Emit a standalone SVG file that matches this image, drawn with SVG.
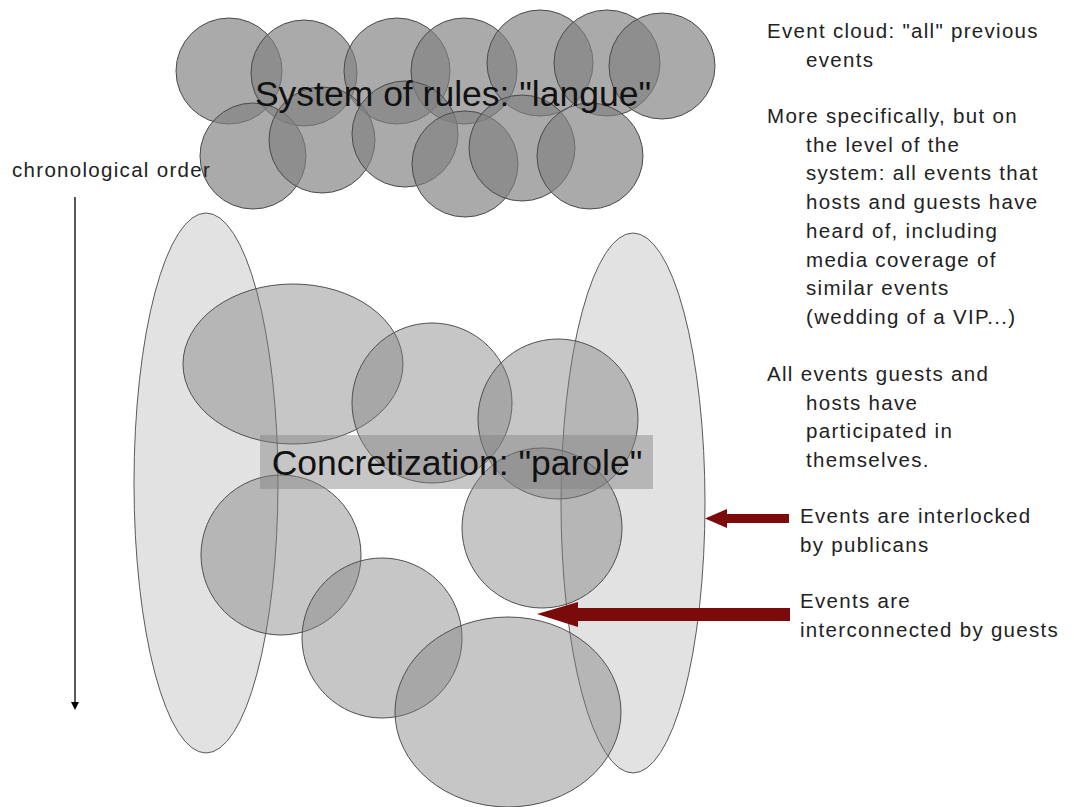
<svg xmlns="http://www.w3.org/2000/svg" width="1074" height="807" viewBox="0 0 1074 807">
<style>
.c{fill:#808080;fill-opacity:0.67;stroke:#4a4a4a;stroke-width:1}
.e{fill:#808080;fill-opacity:0.45;stroke:#505050;stroke-width:1}
.big{fill:#e2e2e2;stroke:#5a5a5a;stroke-width:1}
.t{font-family:"Liberation Sans",Arial,sans-serif;font-size:20.5px;letter-spacing:1.3px;fill:#222}
.h{font-family:"Liberation Sans",Arial,sans-serif;font-size:35.5px;fill:#111}
.red{fill:#7b0a0a}
</style>
<defs>
<marker id="ah" markerWidth="8" markerHeight="8" refX="6" refY="4" orient="auto" markerUnits="userSpaceOnUse">
<path d="M0,0 L8,4 L0,8 Z" fill="#000"/>
</marker>
</defs>
<rect width="1074" height="807" fill="#fff"/>

<g id="event-cloud">
<circle class="c" cx="229" cy="71" r="53"/>
<circle class="c" cx="304" cy="73" r="53"/>
<circle class="c" cx="397" cy="71" r="53"/>
<circle class="c" cx="464" cy="71" r="53"/>
<circle class="c" cx="540" cy="63" r="53"/>
<circle class="c" cx="607" cy="63" r="53"/>
<circle class="c" cx="662" cy="66" r="53"/>
<circle class="c" cx="253" cy="156" r="53"/>
<circle class="c" cx="322" cy="140" r="53"/>
<circle class="c" cx="405" cy="134" r="53"/>
<circle class="c" cx="465" cy="164" r="53"/>
<circle class="c" cx="522" cy="148" r="53"/>
<circle class="c" cx="590" cy="156" r="53"/>
<text class="h" x="453" y="106" text-anchor="middle">System of rules: "langue"</text>
</g>

<g id="hosts-ellipse"><ellipse class="big" cx="206" cy="483" rx="72" ry="270"/></g>
<g id="guests-ellipse"><ellipse class="big" cx="633" cy="503" rx="72" ry="270"/></g>

<g id="events">
<ellipse class="e" cx="293" cy="364" rx="110" ry="80"/>
<circle class="e" cx="432" cy="403" r="80"/>
<circle class="e" cx="558" cy="419" r="80"/>
<circle class="e" cx="281" cy="555" r="80"/>
<circle class="e" cx="542" cy="528" r="80"/>
<circle class="e" cx="382" cy="638" r="80"/>
<ellipse class="e" cx="508" cy="712" rx="113" ry="95"/>
</g>

<g id="parole-label">
<rect x="260" y="435" width="393" height="54" fill="#808080" fill-opacity="0.45"/>
<text class="h" x="457" y="475" text-anchor="middle">Concretization: "parole"</text>
</g>

<g id="chronological">
<text class="t" x="12" y="177">chronological order</text>
</g>

<g id="connectors">
<line x1="75" y1="197" x2="75" y2="708" stroke="#000" stroke-width="1.3" marker-end="url(#ah)"/>
<path class="red" d="M789,514 L727,514 L727,509 L705,518.5 L727,528 L727,523 L789,523 Z"/>
<path class="red" d="M790,608 L578,608 L578,602 L537,614 L578,627 L578,621 L790,621 Z"/>
</g>

<g id="notes">
<text class="t" x="767" y="38">Event cloud: "all" previous</text>
<text class="t" x="806" y="67">events</text>
<text class="t" x="767" y="123">More specifically, but on</text>
<text class="t" x="806" y="152">the level of the</text>
<text class="t" x="806" y="180">system: all events that</text>
<text class="t" x="806" y="209">hosts and guests have</text>
<text class="t" x="806" y="238">heard of, including</text>
<text class="t" x="806" y="267">media coverage of</text>
<text class="t" x="806" y="295">similar events</text>
<text class="t" x="806" y="324">(wedding of a VIP...)</text>
<text class="t" x="767" y="381">All events guests and</text>
<text class="t" x="806" y="410">hosts have</text>
<text class="t" x="806" y="438">participated in</text>
<text class="t" x="806" y="467">themselves.</text>
<text class="t" x="800" y="523">Events are interlocked</text>
<text class="t" x="800" y="552">by publicans</text>
<text class="t" x="800" y="608">Events are</text>
<text class="t" x="800" y="637">interconnected by guests</text>
</g>
</svg>
